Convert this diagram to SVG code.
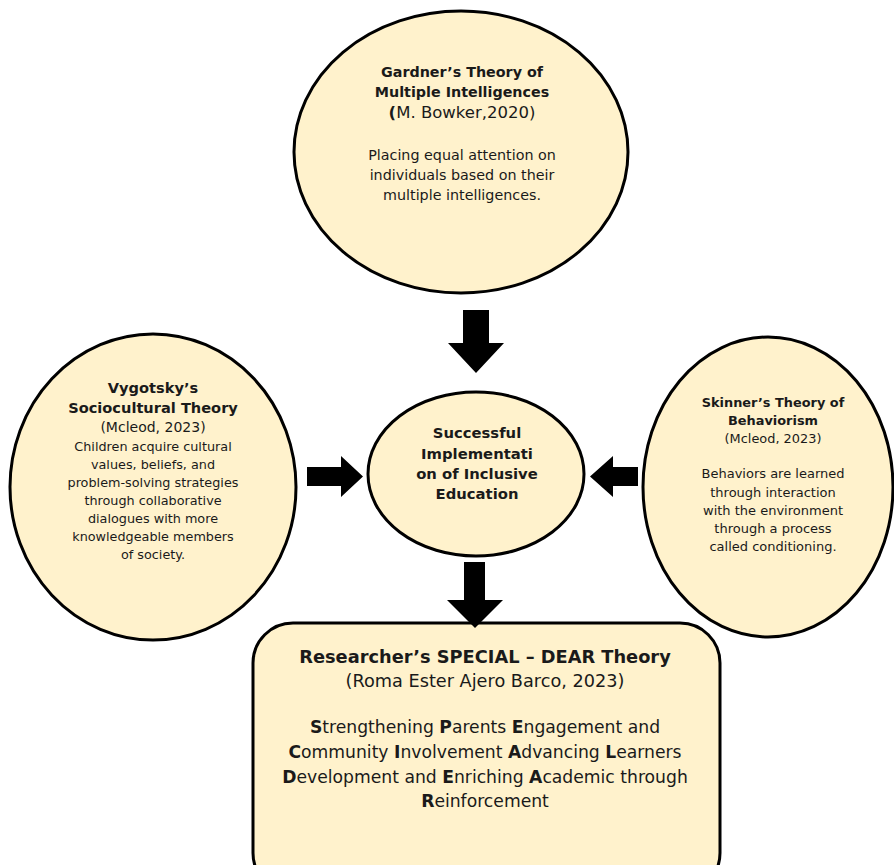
<svg xmlns="http://www.w3.org/2000/svg" width="894" height="865" viewBox="0 0 894 865">
<style>
.n{fill:#FFF2CC;stroke:#000;stroke-width:3}
text{font-family:"DejaVu Sans",Verdana,sans-serif;fill:#1a1a1a;text-anchor:middle}
.b{font-weight:bold}
.a{fill:#000}
</style>
<rect width="894" height="865" fill="#fff"/>
<g id="gardner">
<ellipse class="n" cx="461" cy="152" rx="167" ry="141"/>
<text class="b" x="462" y="77" font-size="14.3">Gardner’s Theory of</text>
<text class="b" x="462" y="97" font-size="14.3">Multiple Intelligences</text>
<text x="462" y="118" font-size="16.5"><tspan class="b">(</tspan>M. Bowker,2020)</text>
<text x="462" y="160" font-size="14.3">Placing equal attention on</text>
<text x="462" y="180" font-size="14.3">individuals based on their</text>
<text x="462" y="200" font-size="14.3">multiple intelligences.</text>
</g>
<g id="vygotsky">
<ellipse class="n" cx="153" cy="487" rx="143" ry="153"/>
<text class="b" x="153" y="393" font-size="14.6">Vygotsky’s</text>
<text class="b" x="153" y="413" font-size="14.6">Sociocultural Theory</text>
<text x="153" y="432" font-size="14">(Mcleod, 2023)</text>
<text x="153" y="451" font-size="12.8">Children acquire cultural</text>
<text x="153" y="469" font-size="12.8">values, beliefs, and</text>
<text x="153" y="487" font-size="12.8">problem-solving strategies</text>
<text x="153" y="505" font-size="12.8">through collaborative</text>
<text x="153" y="523" font-size="12.8">dialogues with more</text>
<text x="153" y="541" font-size="12.8">knowledgeable members</text>
<text x="153" y="559" font-size="12.8">of society.</text>
</g>
<g id="skinner">
<ellipse class="n" cx="768" cy="487" rx="125" ry="150"/>
<text class="b" x="773" y="407" font-size="12.9">Skinner’s Theory of</text>
<text class="b" x="773" y="425" font-size="12.9">Behaviorism</text>
<text x="773" y="443" font-size="12.9">(Mcleod, 2023)</text>
<text x="773" y="478" font-size="13">Behaviors are learned</text>
<text x="773" y="497" font-size="13">through interaction</text>
<text x="773" y="515" font-size="13">with the environment</text>
<text x="773" y="533" font-size="13">through a process</text>
<text x="773" y="551" font-size="13">called conditioning.</text>
</g>
<g id="center">
<ellipse class="n" cx="476" cy="474" rx="108" ry="82"/>
<text class="b" x="477" y="438" font-size="14.8">Successful</text>
<text class="b" x="477" y="459" font-size="14.8">Implementati</text>
<text class="b" x="477" y="479" font-size="14.8">on of Inclusive</text>
<text class="b" x="477" y="499" font-size="14.8">Education</text>
</g>
<g id="dear">
<rect class="n" x="253" y="623" width="467" height="270" rx="40"/>
<text class="b" x="485" y="663" font-size="17.8">Researcher’s SPECIAL – DEAR Theory</text>
<text x="485" y="687" font-size="17.7">(Roma Ester Ajero Barco, 2023)</text>
<text x="485" y="733" font-size="17.2"><tspan class="b">S</tspan>trengthening <tspan class="b">P</tspan>arents <tspan class="b">E</tspan>ngagement and</text>
<text x="485" y="758" font-size="17.2"><tspan class="b">C</tspan>ommunity <tspan class="b">I</tspan>nvolvement <tspan class="b">A</tspan>dvancing <tspan class="b">L</tspan>earners</text>
<text x="485" y="783" font-size="17.2"><tspan class="b">D</tspan>evelopment and <tspan class="b">E</tspan>nriching <tspan class="b">A</tspan>cademic through</text>
<text x="485" y="807" font-size="17.2"><tspan class="b">R</tspan>einforcement</text>
</g>
<g id="connectors">
<polygon class="a" points="463,310 489,310 489,343 504,343 476,373 448,343 463,343"/>
<polygon class="a" points="307,467 341,467 341,456 363,476.5 341,497 341,486 307,486"/>
<polygon class="a" points="638,467 613,467 613,456 590,476.5 613,497 613,486 638,486"/>
<polygon class="a" points="464,562 485,562 485,600 503,600 475,628 447,600 464,600"/>
</g>
</svg>
